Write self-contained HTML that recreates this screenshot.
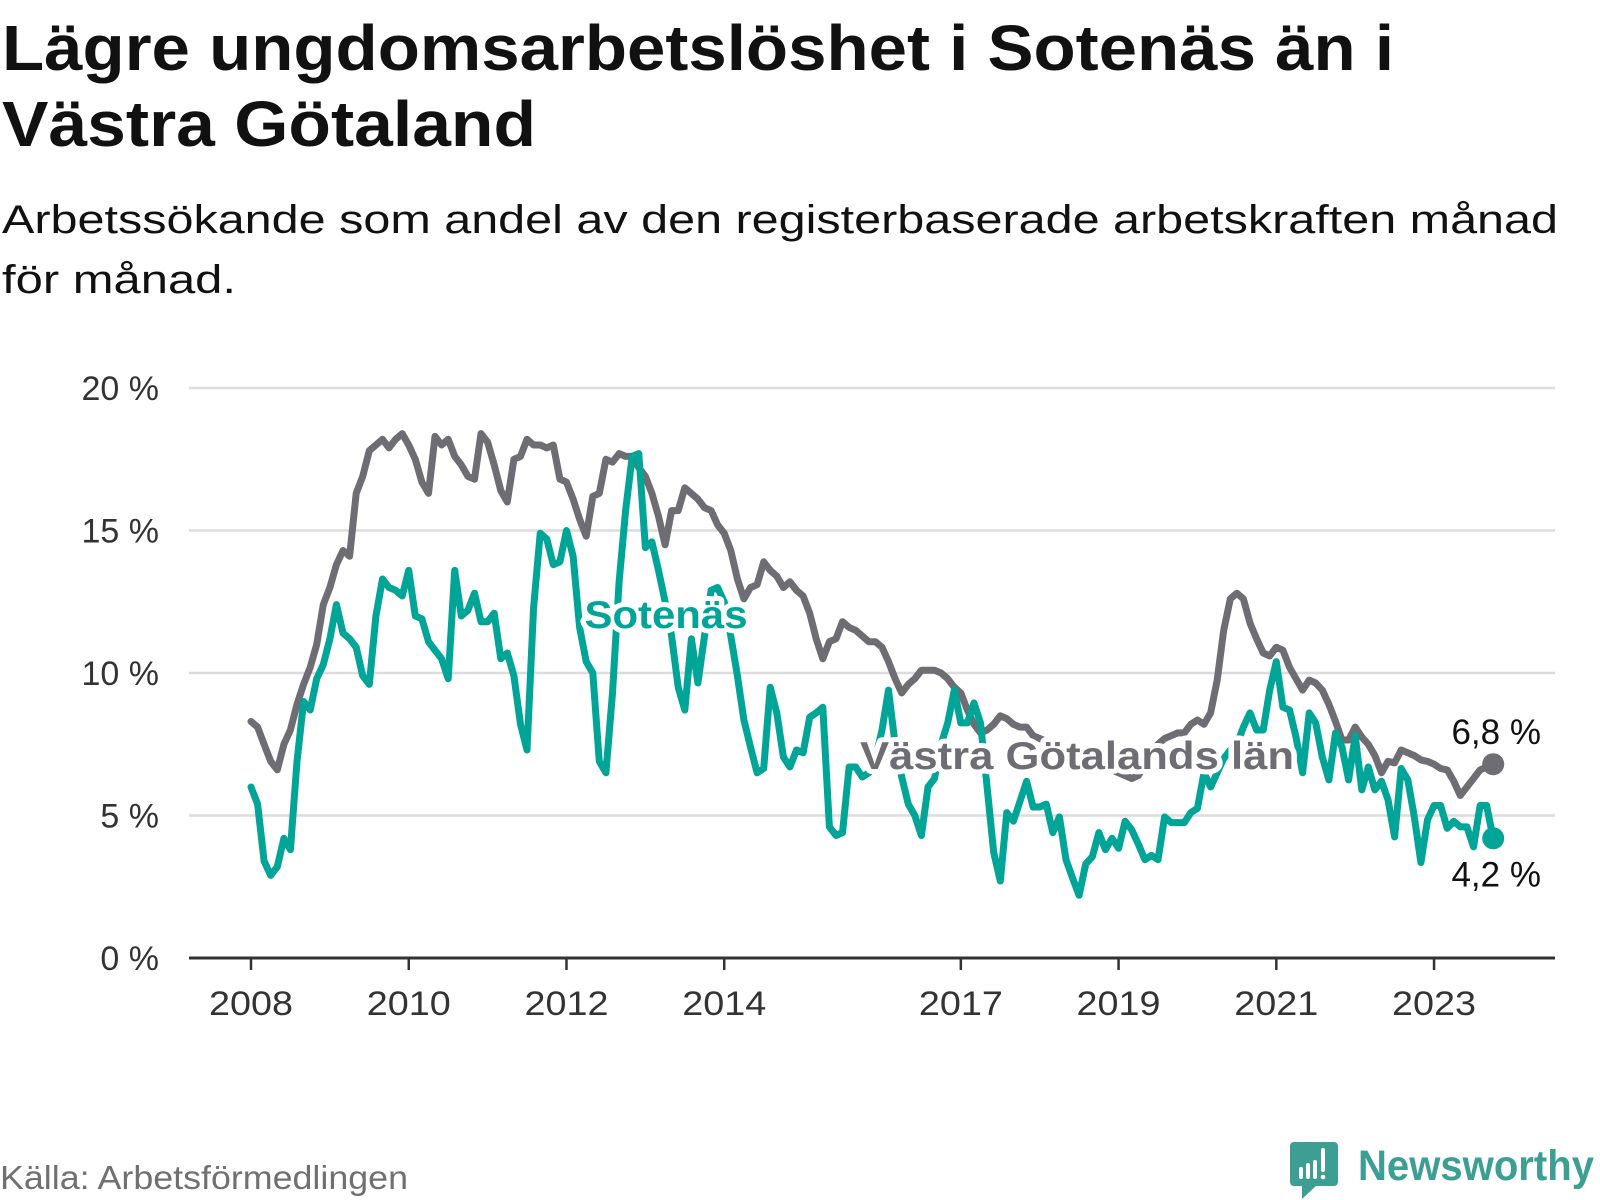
<!DOCTYPE html>
<html><head><meta charset="utf-8"><style>
html,body{margin:0;padding:0;background:#fff;}
svg{display:block;font-family:"Liberation Sans",sans-serif;}
</style></head><body>
<svg id="chart" width="1600" height="1200" viewBox="0 0 1600 1200" xmlns="http://www.w3.org/2000/svg">
<text x="2" y="70" font-size="64" font-weight="bold" fill="#111" textLength="1392" lengthAdjust="spacingAndGlyphs">Lägre ungdomsarbetslöshet i Sotenäs än i</text>
<text x="2" y="146" font-size="64" font-weight="bold" fill="#111" textLength="534" lengthAdjust="spacingAndGlyphs">Västra Götaland</text>
<text x="2" y="233" font-size="40" fill="#111" textLength="1556" lengthAdjust="spacingAndGlyphs">Arbetssökande som andel av den registerbaserade arbetskraften månad</text>
<text x="2" y="293" font-size="40" fill="#111" textLength="234" lengthAdjust="spacingAndGlyphs">för månad.</text>
<g id="grid"></g>
<g id="xaxis"></g>
<g id="series"></g>
<g id="labels"></g>
<text x="0" y="1189" font-size="33" fill="#707070" textLength="408" lengthAdjust="spacingAndGlyphs">Källa: Arbetsförmedlingen</text>
<g>
<path d="M1294 1142 h40 a4 4 0 0 1 4 4 v36 a4 4 0 0 1 -4 4 h-18 l-14 13 v-13 h-8 a4 4 0 0 1 -4 -4 v-36 a4 4 0 0 1 4 -4z" fill="#3d9e93"/>
<rect x="1299" y="1167" width="4" height="12" rx="2" fill="#fff"/>
<rect x="1306" y="1163" width="4" height="16" rx="2" fill="#fff"/>
<rect x="1313" y="1160" width="4" height="19" rx="2" fill="#fff"/>
<rect x="1321" y="1148" width="4" height="24" rx="2" fill="#fff"/>
<circle cx="1323" cy="1177" r="2.3" fill="#fff"/>
<text x="1358" y="1180" font-size="43" font-weight="bold" fill="#3d9e93" textLength="236" lengthAdjust="spacingAndGlyphs">Newsworthy</text>
</g>
</svg>
<script>
const vastraGotaland = [
8.3,8.1,7.5,6.9,6.6,7.5,8.0,8.9,9.6,10.2,
11.0,12.4,13.0,13.8,14.3,14.1,16.3,16.9,17.8,18.0,
18.2,17.9,18.2,18.4,18.0,17.5,16.7,16.3,18.3,18.0,
18.2,17.6,17.3,16.9,16.8,18.4,18.1,17.3,16.4,16.0,
17.5,17.6,18.2,18.0,18.0,17.9,18.0,16.8,16.7,16.1,
15.4,14.8,16.2,16.3,17.5,17.4,17.7,17.6,17.6,17.2,
16.9,16.3,15.5,14.5,15.7,15.7,16.5,16.3,16.1,15.8,
15.7,15.2,14.9,14.3,13.3,12.6,13.0,13.1,13.9,13.6,
13.4,13.0,13.2,12.9,12.7,12.1,11.2,10.5,11.1,11.2,
11.8,11.6,11.5,11.3,11.1,11.1,10.9,10.4,9.8,9.3,
9.6,9.8,10.1,10.1,10.1,10.0,9.8,9.5,9.3,8.7,
8.2,7.9,8.0,8.2,8.5,8.4,8.2,8.1,8.1,7.8,
7.7,7.6,7.5,7.4,7.3,7.2,7.1,7.0,6.9,6.8,
6.7,6.6,6.5,6.4,6.3,6.4,6.8,7.2,7.5,7.7,
7.8,7.9,7.9,8.2,8.35,8.2,8.6,9.75,11.5,12.6,
12.8,12.6,11.75,11.2,10.7,10.6,10.9,10.8,10.2,9.8,
9.4,9.75,9.65,9.4,8.9,8.3,7.65,7.65,8.1,7.75,
7.5,7.1,6.5,6.9,6.85,7.3,7.2,7.1,6.95,6.9,
6.8,6.65,6.6,6.2,5.7,6.0,6.3,6.6,6.7,6.8];
const sotenas = [
6.0,5.4,3.4,2.9,3.2,4.2,3.8,6.9,9.0,8.7,
9.8,10.3,11.2,12.4,11.4,11.2,10.9,9.9,9.6,12.0,
13.3,13.0,12.9,12.7,13.6,12.0,11.9,11.1,10.8,10.5,
9.8,13.6,12.0,12.2,12.8,11.8,11.8,12.1,10.5,10.7,
9.9,8.2,7.3,12.3,14.9,14.7,13.8,13.9,15.0,14.1,
11.6,10.4,10.0,6.9,6.5,9.3,13.2,15.7,17.6,17.7,
14.4,14.6,13.6,12.5,11.3,9.5,8.7,11.2,9.65,11.3,
12.9,13.0,12.5,11.3,9.9,8.35,7.4,6.5,6.65,9.5,
8.6,7.05,6.7,7.3,7.2,8.45,8.6,8.8,4.6,4.3,
4.4,6.7,6.7,6.35,6.5,7.0,8.0,9.4,7.5,6.35,
5.4,5.0,4.3,6.0,6.3,7.5,8.25,9.4,8.25,8.25,
8.95,8.25,6.0,3.7,2.7,5.1,4.8,5.5,6.2,5.3,
5.3,5.4,4.4,4.95,3.45,2.8,2.2,3.3,3.55,4.4,
3.8,4.2,3.85,4.8,4.5,4.0,3.45,3.6,3.45,4.95,
4.75,4.75,4.75,5.1,5.25,6.5,6.0,6.5,7.0,7.3,
7.5,8.1,8.6,8.0,8.0,9.4,10.4,8.8,8.7,7.75,
6.5,8.6,8.25,7.05,6.25,7.9,7.4,6.25,7.8,5.9,
6.7,5.9,6.2,5.55,4.25,6.65,6.25,4.95,3.35,4.85,
5.35,5.35,4.55,4.8,4.6,4.6,3.9,5.35,5.35,4.2];
const yTicks = [0,5,10,15,20];
const yTickLabels = ["0 %","5 %","10 %","15 %","20 %"];
const xYears = [2008,2010,2012,2014,2017,2019,2021,2023];
const endLabels = ["6,8 %","4,2 %"];

const NS="http://www.w3.org/2000/svg";
const X0=251, PER_MONTH=78.87/12, Y0=958, PER_PCT=28.5;
const xMonth = m => X0 + m*PER_MONTH;
const xYear = y => X0 + (y-2008)*12*PER_MONTH;
const yVal = v => Y0 - v*PER_PCT;
function mk(tag, attrs, parent){const e=document.createElementNS(NS,tag);for(const k in attrs)e.setAttribute(k,attrs[k]);parent.appendChild(e);return e;}

const grid=document.getElementById('grid');
yTicks.forEach((t,i)=>{
  if(t>0){
    const l=mk('line',{x1:189,x2:1555,y1:yVal(t),y2:yVal(t),stroke:'#dcdcdc','stroke-width':2.5},grid);
    
    
  }
  const tx=mk('text',{x:159,y:yVal(t)+12,'text-anchor':'end','font-size':34,fill:'#333'},grid);
  tx.textContent=yTickLabels[i];
  
  
});
const xa=document.getElementById('xaxis');
const axis=mk('line',{x1:189,x2:1555,y1:Y0,y2:Y0,stroke:'#333','stroke-width':3},xa);


xYears.forEach(y=>{
  const t=mk('line',{x1:xYear(y),x2:xYear(y),y1:Y0,y2:Y0+12,stroke:'#333','stroke-width':2.5},xa);
  
  
  const tx=mk('text',{x:xYear(y),y:1015,'text-anchor':'middle','font-size':34,fill:'#333',textLength:84,lengthAdjust:'spacingAndGlyphs'},xa);
  tx.textContent=y;
  
  
});
const sg=document.getElementById('series');
function drawLine(data,color,name){
  const d=data.map((v,i)=>(i?'L':'M')+xMonth(i).toFixed(1)+' '+yVal(v).toFixed(1)).join(' ');
  const p=mk('path',{d:d,fill:'none',stroke:color,'stroke-width':7,'stroke-linejoin':'round','stroke-linecap':'round'},sg);
  
  
  const n=data.length-1;
  const c=mk('circle',{cx:xMonth(n),cy:yVal(data[n]),r:11,fill:color},sg);
  
  
}
drawLine(vastraGotaland,'#6e6d74','vastra-gotaland');
drawLine(sotenas,'#00a598','sotenas');
const lg=document.getElementById('labels');
function lbl(txt,x,y,w,color,name){
  const t=mk('text',{x:x,y:y,'text-anchor':'middle','font-size':39,'font-weight':'bold',fill:color,stroke:'#fff','stroke-width':10,'stroke-linejoin':'round','paint-order':'stroke',textLength:w,lengthAdjust:'spacingAndGlyphs'},lg);
  t.textContent=txt;
  
  
}
lbl('Sotenäs',666,628,163,'#00a598','sotenas-series-label');
lbl('Västra Götalands län',1077,769,434,'#6e6d74','vastra-gotaland-series-label');
const n=vastraGotaland.length-1;
const e1=mk('text',{x:xMonth(n)+3,y:yVal(vastraGotaland[n])-20,'text-anchor':'middle','font-size':35,fill:'#111'},lg);
e1.textContent=endLabels[0];


const e2=mk('text',{x:xMonth(n)+3,y:yVal(sotenas[n])+48,'text-anchor':'middle','font-size':35,fill:'#111'},lg);
e2.textContent=endLabels[1];


</script>
</body></html>
